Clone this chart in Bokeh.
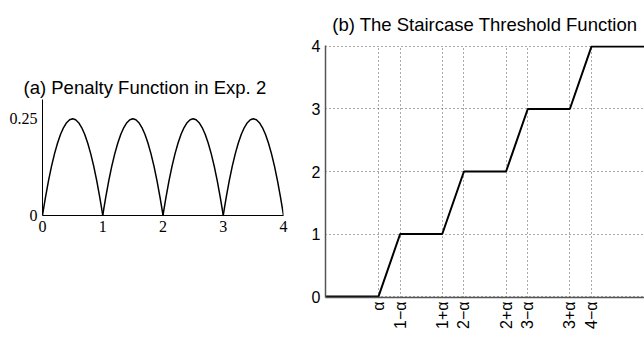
from bokeh.plotting import figure
from bokeh.layouts import row, column
from bokeh.models import Range1d, FixedTicker, CustomJSTickFormatter, NumeralTickFormatter, Title
from bokeh.embed import file_html
from bokeh.resources import INLINE
import math

# ---- (a) penalty function: one arch, repeated on each unit interval
arch_t = [0, 0.02, 0.05, 0.1, 0.15, 0.2, 0.25, 0.3, 0.35, 0.4, 0.45, 0.5,
          0.55, 0.6, 0.65, 0.7, 0.75, 0.8, 0.85, 0.9, 0.95, 0.98, 1.0]
arch_y = [0, 0.0196, 0.0475, 0.09, 0.1275, 0.16, 0.1875, 0.21, 0.2275, 0.24, 0.2475, 0.25,
          0.2475, 0.24, 0.2275, 0.21, 0.1875, 0.16, 0.1275, 0.09, 0.0475, 0.0196, 0]
arch_starts = [0, 1, 2, 3]
pen_xticks = [0, 1, 2, 3, 4]
pen_yticks = [0, 0.25]

# ---- (b) staircase threshold function
step_x = [-0.5, 0.33, 0.67, 1.33, 1.67, 2.33, 2.67, 3.33, 3.67, 4.5]
step_y = [0, 0, 1, 1, 2, 2, 3, 3, 4, 4]
step_xticks = [0.33, 0.67, 1.33, 1.67, 2.33, 2.67, 3.33, 3.67]
step_xlabels = ["α", "1−α", "1+α", "2−α", "2+α", "3−α", "3+α", "4−α"]
step_yticks = [0, 1, 2, 3, 4]

SANS = "Liberation Sans"
SERIF = "Liberation Serif"

# ---------------- left figure
pa = figure(width=308, height=337, output_backend="svg", toolbar_location=None,
            x_range=Range1d(0, 4), y_range=Range1d(0, 0.3),
            min_border_left=42, min_border_right=25, min_border_top=99, min_border_bottom=122)
pa.outline_line_color = None
pa.grid.visible = False
pa.background_fill_color = "white"
pa.border_fill_color = "white"

for s in arch_starts:
    pa.line([s + t for t in arch_t], arch_y, line_color="black", line_width=1.5)

for ax in (pa.xaxis[0], pa.yaxis[0]):
    ax.axis_line_color = "black"
    ax.axis_line_width = 1
    ax.major_tick_out = 0
    ax.major_tick_in = 0
    ax.minor_tick_out = 0
    ax.minor_tick_in = 0
    ax.major_label_text_font = SERIF
    ax.major_label_text_font_size = "16px"
    ax.major_label_text_color = "black"
    ax.major_label_standoff = 5
pa.xaxis.ticker = FixedTicker(ticks=pen_xticks)
pa.yaxis.ticker = FixedTicker(ticks=pen_yticks)
pa.yaxis.formatter = NumeralTickFormatter(format="0.[00]")

ta = Title(text="(a) Penalty Function in Exp. 2", align="left", offset=-19,
           text_font=SANS, text_font_size="18.5px", text_font_style="normal",
           text_color="black", standoff=3)
pa.add_layout(ta, "above")

# ---------------- right figure
pb = figure(width=336, height=337, output_backend="svg", toolbar_location=None,
            x_range=Range1d(-0.5, 4.5), y_range=Range1d(-0.015, 4.015),
            min_border_left=17, min_border_right=0, min_border_top=45, min_border_bottom=40)
pb.outline_line_color = None
pb.background_fill_color = "white"
pb.border_fill_color = "white"

pb.xaxis.ticker = FixedTicker(ticks=step_xticks)
pb.yaxis.ticker = FixedTicker(ticks=step_yticks)
pb.xaxis.formatter = CustomJSTickFormatter(args=dict(vals=step_xticks, labs=step_xlabels), code="""
    for (let i = 0; i < vals.length; i++) {
        if (Math.abs(vals[i] - tick) < 1e-6) return labs[i];
    }
    return "";
""")
for g in (pb.xgrid[0], pb.ygrid[0]):
    g.grid_line_color = "#555555"
    g.grid_line_dash = "1 3"
    g.grid_line_width = 1

pb.line(step_x, step_y, line_color="black", line_width=2)

for ax in (pb.xaxis[0], pb.yaxis[0]):
    ax.axis_line_color = "#555555"
    ax.axis_line_width = 1.5
    ax.major_tick_out = 0
    ax.major_tick_in = 0
    ax.minor_tick_out = 0
    ax.minor_tick_in = 0
    ax.major_label_text_font = SANS
    ax.major_label_text_font_size = "16px"
    ax.major_label_text_color = "black"
pb.yaxis.major_label_standoff = 5
pb.xaxis.major_label_standoff = 4
pb.xaxis.major_label_orientation = math.pi / 2

tb = Title(text="(b) The Staircase Threshold Function", align="center",
           text_font=SANS, text_font_size="18.5px", text_font_style="normal",
           text_color="black", standoff=21)
pb.add_layout(tb, "above")

layout = row(column(pa), column(pb), spacing=0)
open("out.html", "w").write(file_html(layout, INLINE))
